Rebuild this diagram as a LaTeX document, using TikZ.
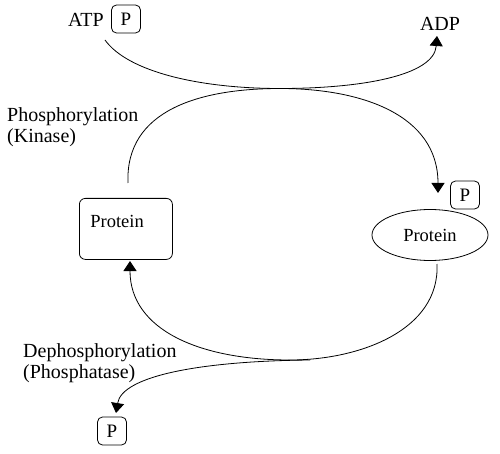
\documentclass[tikz,border=0pt]{standalone}
\usepackage{fontspec}
\setmainfont{Liberation Serif}
\usetikzlibrary{arrows.meta,shapes.geometric}
\begin{document}
\begin{tikzpicture}[x=1pt,y=-1pt,
  lbl/.style={inner sep=0pt, font=\fontsize{20}{21}\selectfont},
  pbox/.style={draw, rounded corners=5pt, line width=0.8pt, minimum width=29pt, minimum height=28pt, inner sep=0pt, font=\fontsize{19}{21}\selectfont},
  arr/.style={line width=0.8pt, -{Triangle[width=13pt,length=10pt]}}]
\useasboundingbox (0,0) rectangle (500,454);
% labels
\node[lbl] (atp) at (86,20) {ATP};
\node[pbox] (patp) at (126,19) {P};
\node[lbl] (adp) at (440,24) {ADP};
\node[lbl, anchor=north west, align=left] (kin) at (7,107) {Phosphorylation\\(Kinase)};
\node[lbl, anchor=north west, align=left] (dephos) at (23,343) {Dephosphorylation\\(Phosphatase)};
% proteins
\node[draw, line width=0.8pt, rounded corners=6pt, anchor=north west, inner xsep=11pt, inner ysep=5pt,
      text height=24pt, text depth=27pt, text width=71pt, font=\fontsize{18.5}{20}\selectfont] (prota) at (79,198) {Protein};
\node[draw, ellipse, line width=0.8pt, minimum width=116pt, minimum height=51pt, inner sep=0pt,
      font=\fontsize{18.5}{20}\selectfont] (protb) at (430,235) {Protein};
\node[pbox] (pb) at (465,195) {P};
\node[pbox] (pc) at (112,431) {P};
% connector end points
\coordinate (atpstart) at (105,40);
\coordinate (adpend) at (437,36);
\coordinate (top) at (280,88.5);
\coordinate (kstart) at (128,183);
\coordinate (kend) at (438,193);
\coordinate (bstart) at (437,264);
\coordinate (bend) at (130,261);
\coordinate (bot) at (290,360);
\coordinate (dstart) at (310,360);
\coordinate (dend) at (116,413);
% ATP -> ADP
\draw[arr] (atpstart) .. controls (128,72) and (200,88.5) .. (top)
  .. controls (360,88.5) and (434,76) .. (adpend);
% kinase loop
\draw[arr] (kstart) .. controls (125,110) and (200,88.5) .. (top)
  .. controls (362,88.5) and (438,115) .. (kend);
% bottom loop
\draw[arr] (bstart) .. controls (440,330) and (360,360) .. (bot)
  .. controls (200,360) and (130,330) .. (bend);
% phosphatase
\draw[arr] (dstart) .. controls (200,361) and (122,376) .. (dend);
\end{tikzpicture}
\end{document}
